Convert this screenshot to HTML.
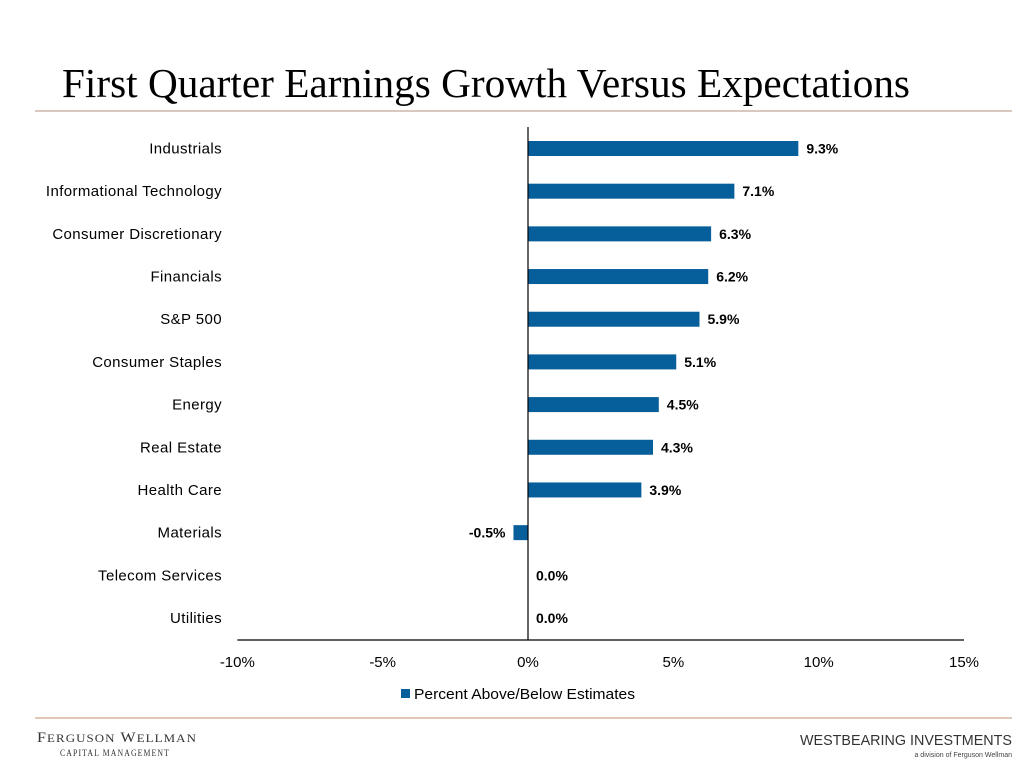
<!DOCTYPE html>
<html><head><meta charset="utf-8"><style>html,body{margin:0;padding:0;background:#fff}svg{display:block}</style></head>
<body>
<svg id="c" width="1028" height="770" xmlns="http://www.w3.org/2000/svg">
<text x="62" y="97" font-family="Liberation Serif, serif" font-size="41" fill="#000" textLength="848" lengthAdjust="spacingAndGlyphs">First Quarter Earnings Growth Versus Expectations</text>
<line x1="35" y1="111" x2="1012" y2="111" stroke="#c0a898" stroke-width="1.3"/>
<g id="plot"></g>
<rect x="401" y="689" width="9" height="9" fill="#065e9a"/>
<text x="414" y="699" font-family="Liberation Sans, sans-serif" font-size="15" fill="#000" textLength="221" lengthAdjust="spacingAndGlyphs">Percent Above/Below Estimates</text>
<line x1="35" y1="718" x2="1012" y2="718" stroke="#e0c8b8" stroke-width="2"/>
<text x="37" y="742" font-family="Liberation Serif, serif" font-size="15" fill="#333" letter-spacing="1" textLength="160" lengthAdjust="spacingAndGlyphs">F<tspan font-size="12">ERGUSON</tspan> W<tspan font-size="12">ELLMAN</tspan></text>
<text x="60" y="756" font-family="Liberation Serif, serif" font-size="9" fill="#333" letter-spacing="1.3" textLength="110" lengthAdjust="spacingAndGlyphs">CAPITAL MANAGEMENT</text>
<text x="1012" y="745" text-anchor="end" font-family="Liberation Sans, sans-serif" font-size="15" fill="#333" textLength="212" lengthAdjust="spacingAndGlyphs">WESTBEARING INVESTMENTS</text>
<text x="1012" y="757" text-anchor="end" font-family="Liberation Sans, sans-serif" font-size="7" fill="#444">a division of Ferguson Wellman</text>
</svg>
<script>
const categories=["Industrials","Informational Technology","Consumer Discretionary","Financials","S&P 500","Consumer Staples","Energy","Real Estate","Health Care","Materials","Telecom Services","Utilities"];
const values=[9.3,7.1,6.3,6.2,5.9,5.1,4.5,4.3,3.9,-0.5,0.0,0.0];
const tickValues=[-10,-5,0,5,10,15];
const tickLabels=["-10%","-5%","0%","5%","10%","15%"];
const NS="http://www.w3.org/2000/svg";
const g=document.getElementById('plot');
const x=v=>528+(v)*(964-528)/15;
const y=i=>148.5+i*(618-148.5)/11;
function mk(t,a,txt){const e=document.createElementNS(NS,t);for(const k in a)e.setAttribute(k,a[k]);if(txt!=null)e.textContent=txt;g.appendChild(e);return e;}
const F="Liberation Sans, sans-serif";
categories.forEach((c,i)=>{
 const v=values[i];
 const r=mk('rect',{x:Math.min(x(0),x(v)),y:y(i)-7.5,width:Math.abs(x(v)-x(0)),height:15,fill:'#065e9a'});
 
 
 const l=mk('text',{x:222,y:y(i)+5,'text-anchor':'end','font-family':F,'font-size':15,'letter-spacing':0.4,fill:'#000'},c);
 
 
 const lbl=v.toFixed(1)+'%';
 const vx=v<0?x(v)-8:x(v)+8;
 const t=mk('text',{x:vx,y:y(i)+5,'text-anchor':v<0?'end':'start','font-family':F,'font-size':14,'font-weight':'bold',fill:'#000'},lbl);
 
 
});
const za=mk('line',{x1:x(0),y1:127,x2:x(0),y2:640,stroke:'#000','stroke-width':1.2});


const xa=mk('line',{x1:x(-10),y1:640,x2:x(15),y2:640,stroke:'#000','stroke-width':1.2});


tickValues.forEach((v,i)=>{
 const t=mk('text',{x:x(v),y:667,'text-anchor':'middle','font-family':F,'font-size':15,fill:'#000'},tickLabels[i]);
 
 
});
</script>
</body></html>
